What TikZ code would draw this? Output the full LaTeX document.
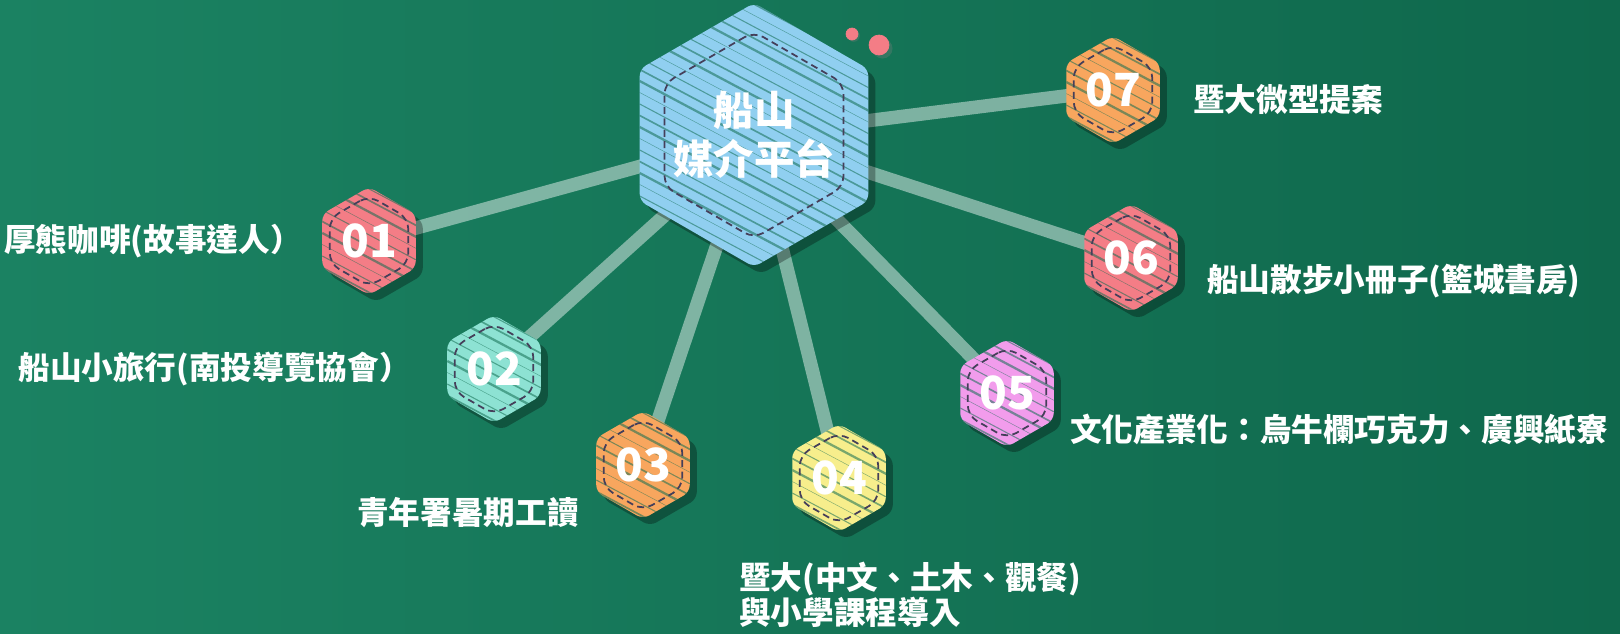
\documentclass[tikz,border=0pt]{standalone}
\usepackage{fontspec}
\setmainfont{Noto Sans CJK TC}
\usetikzlibrary{shapes.geometric,shadows}

\definecolor{boardlight}{HTML}{1B8262}
\definecolor{boarddark}{HTML}{0F684C}
\definecolor{board}{HTML}{136E52}
\definecolor{hubblue}{HTML}{90CFF0}
\definecolor{rose}{HTML}{F47D86}
\definecolor{aqua}{HTML}{8DE2D3}
\definecolor{apricot}{HTML}{F8A65E}
\definecolor{lemon}{HTML}{F7EE8C}
\definecolor{orchid}{HTML}{F29CEC}
\definecolor{seamgray}{HTML}{453F5A}

\pgfdeclarelayer{bg}
\pgfdeclarelayer{links}
\pgfsetlayers{bg,links,main}

\tikzset{
  seam/.style={regular polygon, regular polygon sides=6, shape border rotate=30,
    draw=seamgray, dash pattern=on 4pt off 2.5pt, line width=1pt, rounded corners=6pt, inner sep=0pt},
  hexbadge/.style 2 args={regular polygon, regular polygon sides=6, shape border rotate=30,
    minimum size=#1, inner sep=0pt, fill=#2, rounded corners=4pt,
    drop shadow={shadow xshift=4pt, shadow yshift=-4pt, opacity=.3, fill=black},
    text=white, font=\bfseries\fontsize{26}{30}\selectfont,
    path picture={
      \foreach \d [count=\k] in {-2.6,-2.37,...,4.6}{
        \pgfmathsetmacro\lw{0.25+0.35*mod(\k*7,4)}
        \draw[board, draw opacity=.55, line width=\lw pt]
          ([yshift=\d cm]path picture bounding box.west) -- ++(-28:9cm);
      }
      \node[seam, minimum size=0.84*#1] at (path picture bounding box.center) {};
    }},
  spoke/.style={white, opacity=.45, line width=0.27cm},
  tag/.style={text=white, font=\bfseries\fontsize{18}{23}\selectfont, inner sep=0pt},
}

\begin{document}
\begin{tikzpicture}[x=0.02cm,y=-0.02cm]
  \useasboundingbox (0,0) rectangle (1620,633);
  \begin{pgfonlayer}{bg}
    \shade[left color=boardlight, right color=boarddark] (0,0) rectangle (1620,633);
  \end{pgfonlayer}

  % hub and badges
  \node[hexbadge={4.92cm}{hubblue}, font=\bfseries\fontsize{23}{28}\selectfont, align=center] (hub) at (754,135) {船山\\媒介平台};

  \node[hexbadge={2.16cm}{rose}]    (b01) at (369,241)  {01};
  \node[hexbadge={2.16cm}{aqua}]    (b02) at (494,369)  {02};
  \node[hexbadge={2.16cm}{apricot}] (b03) at (643,465)  {03};
  \node[hexbadge={2.16cm}{lemon}]   (b04) at (839,478)  {04};
  \node[hexbadge={2.16cm}{orchid}]  (b05) at (1007,393) {05};
  \node[hexbadge={2.16cm}{rose}]    (b06) at (1131,258) {06};
  \node[hexbadge={2.16cm}{apricot}] (b07) at (1113,90)  {07};

  % two little dots
  \filldraw[rose, drop shadow={shadow xshift=1pt, shadow yshift=-1pt, opacity=.3}] (852,34) circle (0.12cm);
  \filldraw[rose, drop shadow={shadow xshift=2pt, shadow yshift=-2pt, opacity=.3}] (879,45) circle (0.2cm);

  % connectors
  \begin{pgfonlayer}{links}
    \foreach \b in {b01,b02,b03,b04,b05,b06,b07}
      \draw[spoke] (hub.center) -- (\b.center);
  \end{pgfonlayer}

  % labels
  \node[tag, anchor=east] (l01) at (302,241) {厚熊咖啡(故事達人）};
  \node[tag, anchor=east] (l02) at (411,369) {船山小旅行(南投導覽協會）};
  \node[tag] (l03) at (468,513) {青年署暑期工讀};
  \node[tag, anchor=west, align=left, font=\bfseries\fontsize{18}{20}\selectfont] (l04) at (739,595) {暨大(中文、土木、觀餐)\\與小學課程導入};
  \node[tag, anchor=west] (l05) at (1070,429) {文化產業化：烏牛欄巧克力、廣興紙寮};
  \node[tag, anchor=west] (l06) at (1207,281) {船山散步小冊子(籃城書房)};
  \node[tag, anchor=west] (l07) at (1193,100) {暨大微型提案};
\end{tikzpicture}
\end{document}
